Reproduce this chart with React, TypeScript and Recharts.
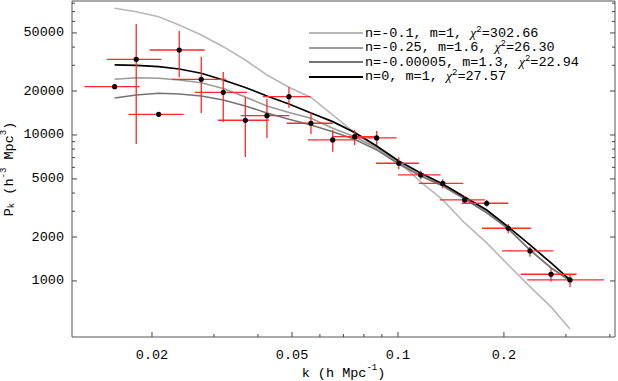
import React from 'react'
import { ComposedChart, Scatter, Line, XAxis, YAxis, ErrorBar, Legend } from 'recharts'

// measured band powers (k in h/Mpc, P in h^-3 Mpc^3)
const kVals = [0.01566, 0.01804, 0.02089, 0.0239, 0.02761, 0.03188, 0.03683, 0.04243, 0.049, 0.05659, 0.06524, 0.07532, 0.087, 0.1005, 0.116, 0.134, 0.1547, 0.1787, 0.2058, 0.2372, 0.2722, 0.3082]
const kLow = [0.01287, 0.01489, 0.01716, 0.0197, 0.02279, 0.02649, 0.03079, 0.03573, 0.04135, 0.04828, 0.05548, 0.06524, 0.07548, 0.0866, 0.1, 0.1147, 0.1316, 0.1517, 0.1733, 0.1975, 0.2232, 0.233]
const kHigh = [0.01845, 0.02125, 0.0246, 0.02823, 0.03245, 0.03724, 0.04299, 0.04911, 0.05648, 0.06524, 0.075, 0.087, 0.09915, 0.1147, 0.1322, 0.1533, 0.1767, 0.2058, 0.2388, 0.2763, 0.3219, 0.385]
const pVals = [21420, 33000, 13860, 38210, 24070, 19610, 12610, 13560, 18300, 12030, 9243, 9736, 9539, 6400, 5321, 4653, 3588, 3405, 2296, 1605, 1111, 1016]
const pLow = [21420, 8677, 13860, 24850, 14150, 12270, 7069, 9539, 15380, 10160, 7686, 8541, 8541, 5822, 4973, 4315, 3367, 3227, 2121, 1467, 989, 905]
const pHigh = [21420, 57550, 13860, 51560, 34380, 27010, 18210, 17640, 21320, 14300, 10820, 10820, 10650, 7031, 5695, 4973, 3822, 3588, 2457, 1718, 1228, 1117]

// model curves at the same k
const curveA = [73750, 69900, 64600, 56670, 48400, 40260, 32630, 25760, 21220, 18060, 13710, 10320, 8276, 6533, 4765, 3588, 2496, 1821, 1287, 914, 664, 469]
const curveB = [24070, 24690, 24460, 23810, 22810, 20830, 18200, 15800, 14260, 13010, 11110, 9736, 8147, 6430, 5321, 4545, 3703, 2969, 2271, 1630, 1228, 1016]
const curveC = [17920, 18790, 19300, 19090, 18500, 17360, 15800, 14150, 12810, 11710, 10530, 9344, 7896, 6330, 5239, 4474, 3644, 2923, 2271, 1630, 1228, 1000]
const curveD = [30170, 30020, 29360, 28320, 26460, 23810, 21150, 18500, 16310, 14150, 12340, 10400, 8409, 6636, 5491, 4617, 3762, 3064, 2344, 1764, 1328, 1016]

const legendN = ['n=-0.1, m=1, ', 'n=-0.25, m=1.6, ', 'n=-0.00005, m=1.3, ', 'n=0, m=1, ']
const legendChi = ['302.66', '26.30', '22.94', '27.57']
const lineColors = ['#b8b8b8', '#9a9a9a', '#747474', '#000000']

const xTicks = [0.02, 0.03, 0.04, 0.05, 0.06, 0.07, 0.08, 0.09, 0.1, 0.2, 0.3, 0.4]
const xLabeled = [0.02, 0.05, 0.1, 0.2]
const yTicks = [1000, 2000, 3000, 4000, 5000, 6000, 7000, 8000, 9000, 10000, 20000, 30000, 40000, 50000, 60000, 70000, 80000]
const yLabeled = [1000, 2000, 5000, 10000, 20000, 50000]

const rows = kVals.map((k, i) => ({
  k,
  p: pVals[i],
  xErr: [k - kLow[i], kHigh[i] - k],
  yErr: [pVals[i] - pLow[i], pHigh[i] - pVals[i]],
  a: curveA[i],
  b: curveB[i],
  c: curveC[i],
  d: curveD[i],
}))

const FONT = '"Liberation Mono", "DejaVu Sans Mono", monospace'
const TICK = '#444'
const FRAME = '#555'

function XTick(props: any) {
  const { x, y, payload, orient } = props
  const major = xLabeled.includes(payload.value)
  const len = major ? 5 : 3
  const dir = orient === 'top' ? 1 : -1
  return (
    <g>
      <line x1={x} x2={x} y1={y} y2={y + dir * len} stroke={TICK} />
      {orient === 'bottom' && major && (
        <text x={x} y={y + 18} textAnchor="middle" dominantBaseline="central" fontFamily={FONT} fontSize={13.5} fill="#000">
          {String(payload.value)}
        </text>
      )}
    </g>
  )
}

function YTick(props: any) {
  const { x, y, payload, orient } = props
  const major = yLabeled.includes(payload.value)
  const len = major ? 5 : 3
  const dir = orient === 'left' ? 1 : -1
  return (
    <g>
      <line x1={x} x2={x + dir * len} y1={y} y2={y} stroke={TICK} />
      {orient === 'left' && major && (
        <text x={x - 8} y={y} textAnchor="end" dominantBaseline="central" fontFamily={FONT} fontSize={13.5} fill="#000">
          {String(payload.value)}
        </text>
      )}
    </g>
  )
}

function YTitle(props: any) {
  const vb = props.viewBox || { y: 1, height: 336 }
  const x = 9
  const y = vb.y + vb.height / 2
  return (
    <text x={x} y={y} transform={`rotate(-90 ${x} ${y})`} textAnchor="middle" dominantBaseline="central" fontFamily={FONT} fontSize={13.5} fill="#000">
      P<tspan fontSize={9} dy={3}>k</tspan>
      <tspan dy={-3}> (h</tspan>
      <tspan fontSize={9} dy={-5}>-3</tspan>
      <tspan dy={5}> Mpc</tspan>
      <tspan fontSize={9} dy={-5}>3</tspan>
      <tspan dy={5}>)</tspan>
    </text>
  )
}

function XTitle(props: any) {
  const vb = props.viewBox || { x: 72, width: 543 }
  const x = vb.x + vb.width / 2
  return (
    <text x={x} y={373} textAnchor="middle" dominantBaseline="central" fontFamily={FONT} fontSize={13.5} fill="#000">
      k (h Mpc<tspan fontSize={9} dy={-5}>-1</tspan>
      <tspan dy={5}>)</tspan>
    </text>
  )
}

function LegendBox() {
  return (
    <div style={{ fontFamily: FONT, fontSize: 13.5, color: '#000', lineHeight: '14.6px' }}>
      {legendN.map((n, i) => (
        <div key={i} style={{ display: 'flex', alignItems: 'center', height: 14.6, whiteSpace: 'nowrap' }}>
          <span style={{ display: 'inline-block', width: 54, height: 2, background: lineColors[i], marginRight: 2 }} />
          <span>
            {n}
            <i style={{ fontFamily: '"Liberation Serif", serif' }}>χ</i>
            <sup style={{ fontSize: 9, verticalAlign: 5, lineHeight: 0 }}>2</sup>={legendChi[i]}
          </span>
        </div>
      ))}
    </div>
  )
}

export default function App() {
  return (
    <div style={{ position: 'absolute', left: 0, top: 0, background: '#fff' }}>
      <ComposedChart width={618} height={381} data={rows} margin={{ top: 0, right: 2, bottom: 43, left: 71 }}>
        <XAxis dataKey="k" type="number" scale="log" domain={[0.01185, 0.4137]} allowDataOverflow
          ticks={xTicks} interval={0} height={1} tickSize={0} tickMargin={0}
          stroke={FRAME} tick={(p: any) => <XTick {...p} orient="bottom" />} label={<XTitle />} />
        <XAxis xAxisId="top" orientation="top" type="number" scale="log" domain={[0.01185, 0.4137]} allowDataOverflow
          ticks={xTicks} interval={0} height={1} tickSize={0} tickMargin={0}
          stroke={FRAME} tick={(p: any) => <XTick {...p} orient="top" />} />
        <YAxis type="number" scale="log" domain={[413, 82760]} allowDataOverflow
          ticks={yTicks} interval={0} width={1} tickSize={0} tickMargin={0}
          stroke={FRAME} tick={(p: any) => <YTick {...p} orient="left" />} label={<YTitle />} />
        <YAxis yAxisId="right" orientation="right" type="number" scale="log" domain={[413, 82760]} allowDataOverflow
          ticks={yTicks} interval={0} width={1} tickSize={0} tickMargin={0}
          stroke={FRAME} tick={(p: any) => <YTick {...p} orient="right" />} />
        <Line dataKey="a" name={legendN[0]} type="linear" stroke={lineColors[0]} strokeWidth={1.6} dot={false} activeDot={false} isAnimationActive={false} />
        <Line dataKey="b" name={legendN[1]} type="linear" stroke={lineColors[1]} strokeWidth={1.6} dot={false} activeDot={false} isAnimationActive={false} />
        <Line dataKey="c" name={legendN[2]} type="linear" stroke={lineColors[2]} strokeWidth={1.6} dot={false} activeDot={false} isAnimationActive={false} />
        <Line dataKey="d" name={legendN[3]} type="linear" stroke={lineColors[3]} strokeWidth={1.7} dot={false} activeDot={false} isAnimationActive={false} />
        <Scatter dataKey="p" fill="#000" isAnimationActive={false}
          shape={(p: any) => <circle cx={p.cx} cy={p.cy} r={2.6} fill="#000" />}>
          <ErrorBar dataKey="xErr" direction="x" width={0} stroke="#ff2a2a" strokeWidth={1.3} isAnimationActive={false} />
          <ErrorBar dataKey="yErr" direction="y" width={0} stroke="#ff2a2a" strokeWidth={1.3} isAnimationActive={false} />
        </Scatter>
        <Legend layout="vertical" align="center" verticalAlign="middle" content={() => <LegendBox />}
          wrapperStyle={{ left: 309, top: 26, width: 300, height: 60 }} />
      </ComposedChart>
    </div>
  )
}
